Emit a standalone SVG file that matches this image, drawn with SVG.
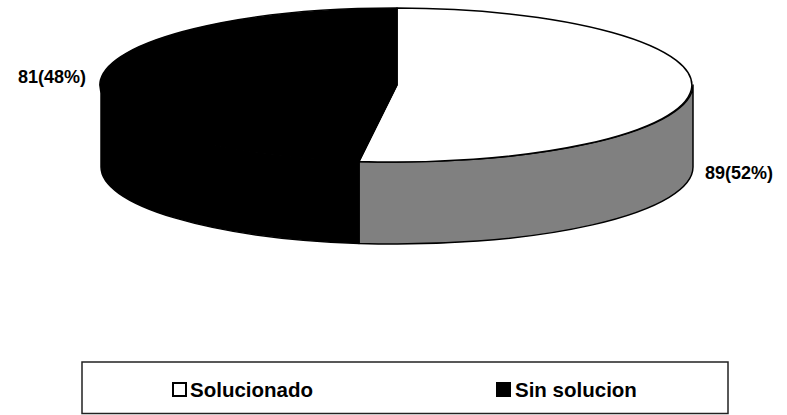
<svg xmlns="http://www.w3.org/2000/svg" width="787" height="415" viewBox="0 0 787 415">
<style>
.o{stroke:#000;stroke-width:1.5;stroke-linejoin:round}
.t{font-family:"Liberation Sans",Arial,sans-serif;font-weight:bold;fill:#000}
</style>
<rect width="787" height="415" fill="#fff"/>
<g id="pie">
  <g id="side-gray"><path class="o" fill="#808080" d="M693,85 A296,77 0 0 1 359,161.4 L359,243.4 A296,77 0 0 0 693,167 Z"/></g>
  <g id="side-black"><path class="o" fill="#000" d="M359,161.4 A296,77 0 0 1 101,85 L101,167 A296,77 0 0 0 359,243.4 Z"/></g>
  <g id="slice-solucionado"><path class="o" fill="#fff" d="M397,85 L397,8 A296,77 0 1 1 359,161.4 Z"/></g>
  <g id="slice-sin"><path class="o" fill="#000" d="M397,85 L359,161.4 A296,77 0 0 1 397,8 Z"/></g>
</g>
<g id="labels">
  <text class="t" x="86" y="83" font-size="18" text-anchor="end">81(48%)</text>
  <text class="t" x="705" y="179" font-size="18">89(52%)</text>
</g>
<g id="legend">
  <rect x="82" y="362" width="646" height="51.5" fill="#fff" stroke="#222" stroke-width="1.5"/>
  <rect x="173" y="383" width="13" height="13" fill="#fff" stroke="#000" stroke-width="2"/>
  <text class="t" x="190" y="397" font-size="20.5">Solucionado</text>
  <rect x="496" y="382" width="15" height="15" fill="#000"/>
  <text class="t" x="515" y="397" font-size="20.5">Sin solucion</text>
</g>
</svg>
